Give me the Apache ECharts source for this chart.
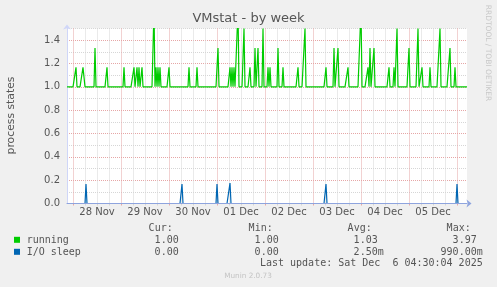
<!DOCTYPE html>
<html><head><meta charset="utf-8">
<script src="https://cdn.jsdelivr.net/npm/echarts@6/dist/echarts.min.js"></script>
<style>html,body{margin:0;padding:0;background:#F0F0F0;}#c{width:497px;height:287px;}</style>
</head><body><div id="c"></div>
<script>
// ---- data ----
const titleText = 'VMstat - by week';
const yAxisName = 'process states';
const watermark = 'RRDTOOL / TOBI OETIKER';
const dayDates = ['11-28','11-29','11-30','12-01','12-02','12-03','12-04','12-05'];
const dayLabels = ['28 Nov','29 Nov','30 Nov','01 Dec','02 Dec','03 Dec','04 Dec','05 Dec'];
const slotStart = [2025, 10, 27, 21, 0]; // first 30-min slot (27 Nov 21:00)
const slotMinutes = 30;
const slotCount = 401;

const runningBase = 1.0;
const runningSpikeTimes = [
 '11-28 01:30','11-28 05:00','11-28 05:30','11-28 11:00','11-28 17:00',
 '11-29 01:30','11-29 06:30','11-29 08:00','11-29 09:00','11-29 10:30','11-29 16:30','11-29 17:30','11-29 18:30','11-29 19:30',
 '11-30 00:00','11-30 10:00','11-30 14:00',
 '12-01 00:30','12-01 06:30','12-01 07:30','12-01 08:30','12-01 10:30','12-01 13:30','12-01 16:30','12-01 19:00','12-01 20:30','12-01 23:00',
 '12-02 01:30','12-02 02:30','12-02 06:30','12-02 09:00','12-02 16:30','12-02 20:00',
 '12-03 06:30','12-03 10:30','12-03 12:30','12-03 17:30',
 '12-04 00:00','12-04 03:30','12-04 04:30','12-04 06:30','12-04 14:00','12-04 16:30','12-04 18:00',
 '12-05 00:00','12-05 04:30','12-05 06:30','12-05 10:30','12-05 15:30','12-05 20:30','12-05 23:00'
];
const runningSpikeValues = [
 1.167,1.167,1.167,1.333,1.167,
 1.167,1.167,1.167,1.167,1.167,1.667,1.167,1.167,1.167,
 1.167,1.167,1.167,
 1.333,1.167,1.167,1.167,1.667,1.5,1.167,1.333,1.333,1.5,
 1.167,1.167,1.333,1.167,1.167,1.5,
 1.167,1.333,1.333,1.167,
 1.667,1.167,1.333,1.333,1.167,1.167,1.5,
 1.333,1.5,1.167,1.167,1.5,1.333,1.167
];
const ioBase = 0.0;
const ioSpikeTimes = ['11-28 06:30','11-30 06:30','12-01 00:00','12-01 06:30','12-03 06:30','12-06 00:00'];
const ioSpikeValues = [0.167,0.167,0.167,0.175,0.167,0.167];

const legendNames = ['running','I/O sleep'];
const legendColors = ['#00CC00','#0066B3'];
const statHeaders = ['Cur:','Min:','Avg:','Max:'];
const runningStats = ['1.00','1.00','1.03','3.97'];
const ioStats = ['0.00','0.00','2.50m','990.00m'];
const lastUpdate = 'Last update: Sat Dec  6 04:30:04 2025';
const footerText = 'Munin 2.0.73';

// ---- build ----
const pad = n => (n < 10 ? '0' : '') + n;
const t0 = Date.UTC(slotStart[0], slotStart[1], slotStart[2], slotStart[3], slotStart[4]);
const categories = [];
for (let i = 0; i < slotCount; i++) {
  const d = new Date(t0 + i * slotMinutes * 60000);
  categories.push(pad(d.getUTCMonth() + 1) + '-' + pad(d.getUTCDate()) + ' ' + pad(d.getUTCHours()) + ':' + pad(d.getUTCMinutes()));
}
function buildSeries(base, times, values) {
  const arr = categories.map(() => base);
  times.forEach((t, k) => { const idx = categories.indexOf(t); if (idx >= 0) arr[idx] = values[k]; });
  return arr;
}
const runningData = buildSeries(runningBase, runningSpikeTimes, runningSpikeValues);
const ioData = buildSeries(ioBase, ioSpikeTimes, ioSpikeValues);

const hm = v => v.slice(-5);
const isDay = (i, v) => hm(v) === '00:00';
const isSix = (i, v) => ['06:00', '12:00', '18:00'].includes(hm(v));
const isNoon = (i, v) => hm(v) === '12:00' && dayDates.includes(v.slice(0, 5));

const RED = '#E6A6A6', GRAY = '#D6D6D6', TXT = '#555555';
const mono = 'DejaVu Sans Mono', sans = 'DejaVu Sans';

const chart = echarts.init(document.getElementById('c'), null, {renderer: 'canvas'});

const graphics = [];
graphics.push({type: 'text', x: 248.5, y: 19, style: {text: titleText, font: '13px "' + sans + '"', fill: '#555', align: 'center', verticalAlign: 'middle'}});
graphics.push({type: 'text', x: 11, y: 115.5, rotation: Math.PI / 2, style: {text: yAxisName, font: '10.8px "' + sans + '"', fill: TXT, align: 'center', verticalAlign: 'middle'}});
graphics.push({type: 'text', x: 488, y: 53, rotation: -Math.PI / 2, style: {text: watermark, font: '7.5px "' + sans + '"', fill: '#C8C8C8', align: 'center', verticalAlign: 'middle'}});
const colEnds = [178.7, 278.7, 377.7, 476.7];
const monoFont = '10px "' + mono + '"';
statHeaders.forEach((h, k) => {
  graphics.push({type: 'text', x: colEnds[k] - 6, y: 228, style: {text: h, font: monoFont, fill: TXT, align: 'right', verticalAlign: 'middle'}});
});
[runningStats, ioStats].forEach((stats, r) => {
  const y = 240 + r * 12;
  graphics.push({type: 'rect', shape: {x: 14, y: y - 3.2, width: 6, height: 6}, style: {fill: legendColors[r]}});
  graphics.push({type: 'text', x: 26.7, y: y, style: {text: legendNames[r], font: monoFont, fill: TXT, align: 'left', verticalAlign: 'middle'}});
  stats.forEach((s, k) => {
    const suf = s.endsWith('m') ? 'm' : '';
    const num = suf ? s.slice(0, -1) : s;
    graphics.push({type: 'text', x: colEnds[k], y: y, style: {text: num, font: monoFont, fill: TXT, align: 'right', verticalAlign: 'middle'}});
    if (suf) graphics.push({type: 'text', x: colEnds[k], y: y, style: {text: suf, font: monoFont, fill: TXT, align: 'left', verticalAlign: 'middle'}});
  });
});
graphics.push({type: 'text', x: 482.7, y: 263.5, style: {text: lastUpdate, font: monoFont, fill: TXT, align: 'right', verticalAlign: 'middle'}});
graphics.push({type: 'text', x: 248, y: 276.5, style: {text: footerText, font: '7.3px "' + sans + '"', fill: '#C4C4C4', align: 'center', verticalAlign: 'middle'}});

const option = {
  animation: false,
  backgroundColor: '#F0F0F0',
  grid: {left: 67, top: 28.5, width: 400, height: 175, backgroundColor: '#FFFFFF', show: true, borderWidth: 0},
  xAxis: [
    {type: 'category', data: categories, boundaryGap: false, position: 'bottom',
     axisLine: {show: false},
     axisTick: {show: true, interval: isSix, length: 2, lineStyle: {color: GRAY}},
     axisLabel: {interval: isNoon, margin: 4, color: TXT, fontSize: 10, fontFamily: sans,
       formatter: v => dayLabels[dayDates.indexOf(v.slice(0, 5))]},
     splitLine: {show: true, interval: isSix, lineStyle: {color: GRAY, type: [1, 1], width: 1}}},
    {type: 'category', data: categories, boundaryGap: false, position: 'bottom',
     axisLine: {show: false}, axisLabel: {show: false},
     axisTick: {show: true, interval: isDay, length: 2, lineStyle: {color: RED}},
     splitLine: {show: true, interval: isDay, lineStyle: {color: RED, type: [1, 1], width: 1}}},
    {type: 'category', data: categories, boundaryGap: false, position: 'bottom', z: 5,
     axisLine: {show: true, lineStyle: {color: '#8EA4DE', width: 1}, symbol: ['none', 'arrow'], symbolSize: [6, 5], symbolOffset: [0, 4.5]},
     axisTick: {show: false}, axisLabel: {show: false}, splitLine: {show: false}}
  ],
  yAxis: [{
    type: 'value', min: 0, max: 1.5, interval: 0.1,
    axisLine: {show: true, lineStyle: {color: '#CFD6F8', width: 1}, symbol: ['none', 'arrow'], symbolSize: [6, 5], symbolOffset: [0, 4]},
    axisTick: {show: false},
    axisLabel: {color: TXT, fontSize: 10, fontFamily: sans, margin: 7,
      formatter: v => (Math.round(v * 10) % 2 === 0 && v < 1.45) ? v.toFixed(1) : ''},
    splitLine: {show: true, lineStyle: {color: [RED, GRAY], type: [1, 1], width: 1}}
  }],
  series: [
    {name: legendNames[0], type: 'line', data: runningData, xAxisIndex: 0, yAxisIndex: 0, showSymbol: false, symbol: 'none',
     lineStyle: {color: legendColors[0], width: 1.2}, itemStyle: {color: legendColors[0]}, z: 3},
    {name: legendNames[1], type: 'line', data: ioData, xAxisIndex: 0, yAxisIndex: 0, showSymbol: false, symbol: 'none',
     lineStyle: {color: legendColors[1], width: 1.2}, itemStyle: {color: legendColors[1]}, z: 4}
  ],
  graphic: graphics
};
chart.setOption(option);
</script></body></html>
